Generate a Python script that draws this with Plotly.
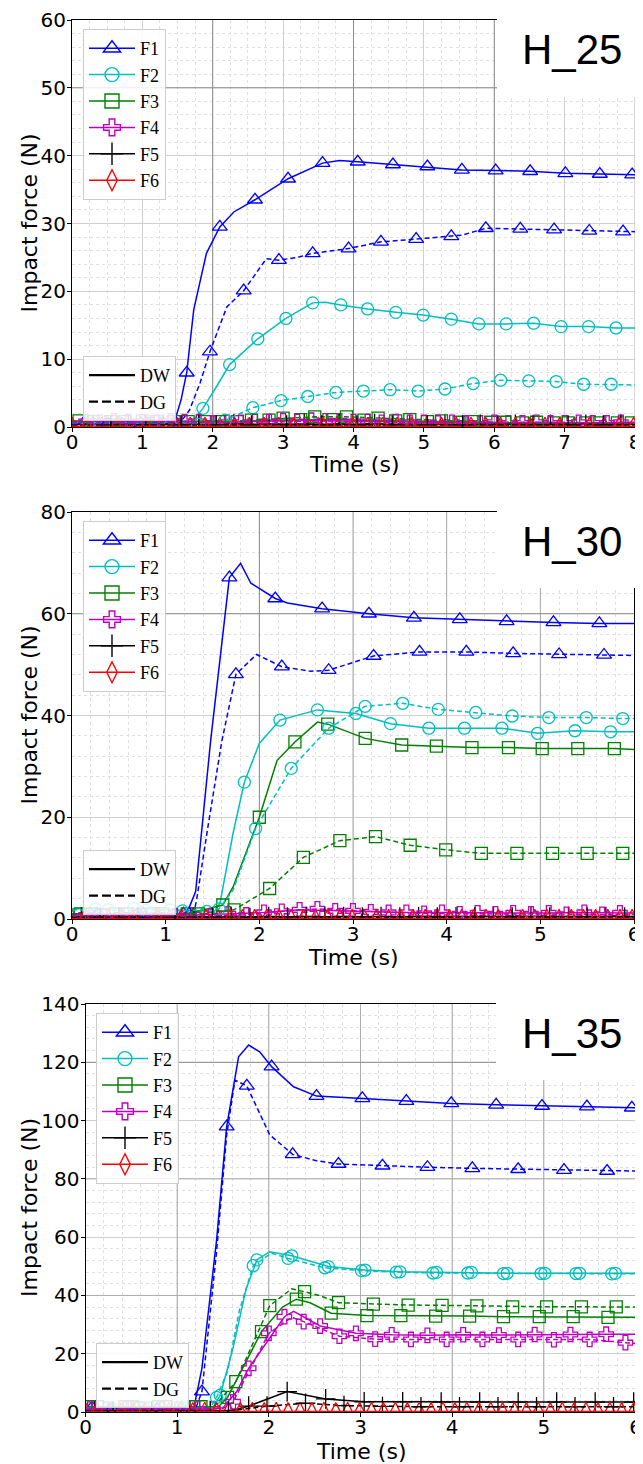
import plotly.graph_objects as go

W, H = 643, 1464
OFF = 8  # the page body adds an 8px margin; compensate so the figure lands where the reference is

# ---------------- DATA ----------------
FORCES = ["F1", "F2", "F3", "F4", "F5", "F6"]
CASES = ["DW", "DG"]
COLORS = {"F1": "#0000ff", "F2": "#00bfbf", "F3": "#008000",
          "F4": "#bf00bf", "F5": "#000000", "F6": "#ff0000"}
SYMBOLS = {"F1": "triangle-up-open", "F2": "circle-open", "F3": "square-open",
           "F4": "cross-open", "F5": "cross-thin-open", "F6": "diamond-tall-open"}
MSIZE = {"F1": 13, "F2": 12, "F3": 12, "F4": 12, "F5": 14, "F6": 13}
PANEL_TITLES = ["H_25", "H_30", "H_35"]
X_MAX = [8, 6, 6]
Y_MAX = [60, 80, 140]
Y_DTICK = [10, 20, 20]

# t/v = points carrying markers, xt/xv = extra points of the curve only
# ---- H_25 ----
H25_F1_DW = dict(t=[0.16, 0.65, 1.14, 1.63, 2.10, 2.60, 3.07, 3.56, 4.06, 4.56, 5.05, 5.54, 6.02, 6.51, 7.01, 7.50, 7.96],
                 v=[0.5, 0.5, 0.5, 8.0, 29.5, 33.5, 36.6, 38.9, 39.1, 38.7, 38.4, 37.9, 37.8, 37.7, 37.4, 37.3, 37.2],
                 xt=[0, 1.45, 1.55, 1.73, 1.91, 2.30, 3.80, 8.0], xv=[0.5, 0.6, 4.0, 17.3, 25.6, 31.7, 39.3, 37.2])
H25_F1_DG = dict(t=[0.50, 0.98, 1.47, 1.96, 2.44, 2.94, 3.42, 3.93, 4.39, 4.89, 5.39, 5.88, 6.37, 6.85, 7.35, 7.83],
                 v=[0.5, 0.5, 0.6, 11.1, 20.1, 24.6, 25.6, 26.3, 27.3, 27.7, 28.1, 29.3, 29.2, 29.1, 28.9, 28.8],
                 xt=[0, 1.55, 1.67, 1.82, 2.20, 2.76, 3.20, 5.55, 8.0], xv=[0.5, 0.8, 2.5, 6.5, 17.7, 24.8, 25.0, 28.3, 28.8])
H25_F2_DW = dict(t=[0.30, 0.69, 1.08, 1.47, 1.86, 2.24, 2.64, 3.04, 3.42, 3.82, 4.20, 4.60, 4.99, 5.39, 5.78, 6.17, 6.56, 6.95, 7.34, 7.73],
                 v=[0.5, 0.5, 0.5, 0.5, 2.75, 9.2, 13.0, 16.0, 18.3, 18.0, 17.4, 16.9, 16.5, 15.9, 15.2, 15.2, 15.3, 14.8, 14.8, 14.6],
                 xt=[0, 1.70, 2.05, 3.60, 8.0], xv=[0.5, 0.7, 5.9, 18.4, 14.6])
H25_F2_DG = dict(t=[0.23, 0.62, 1.01, 1.40, 1.79, 2.18, 2.57, 2.97, 3.35, 3.75, 4.14, 4.52, 4.92, 5.30, 5.70, 6.09, 6.49, 6.88, 7.27, 7.66],
                 v=[0.4, 0.4, 0.4, 0.4, 0.4, 1.0, 2.85, 3.9, 4.5, 5.1, 5.3, 5.5, 5.3, 5.6, 6.4, 6.9, 6.8, 6.7, 6.3, 6.3],
                 xt=[0, 8.0], xv=[0.4, 6.2])
H25_F3_DW = dict(t=[0.10, 0.55, 1.00, 1.45, 1.90, 2.35, 2.80, 3.25, 3.70, 4.15, 4.60, 5.05, 5.50, 5.95, 6.40, 6.85, 7.30, 7.75],
                 v=[0.9, 0.8, 0.9, 0.8, 0.8, 0.8, 1.0, 1.1, 1.1, 1.0, 0.9, 0.8, 0.7, 0.7, 0.6, 0.6, 0.6, 0.6],
                 xt=[0, 8.0], xv=[0.9, 0.6])
H25_F3_DG = dict(t=[0.30, 0.75, 1.20, 1.65, 2.10, 2.55, 3.00, 3.45, 3.90, 4.35, 4.80, 5.25, 5.70, 6.15, 6.60, 7.05, 7.50, 7.95],
                 v=[0.8, 0.8, 0.8, 0.8, 0.8, 1.0, 1.3, 1.5, 1.5, 1.3, 1.1, 0.9, 0.8, 0.7, 0.7, 0.6, 0.6, 0.6],
                 xt=[0, 8.0], xv=[0.8, 0.6])
H25_F4_DW = dict(t=[0.2, 0.6, 1.0, 1.4, 1.8, 2.2, 2.6, 3.0, 3.4, 3.8, 4.2, 4.6, 5.0, 5.4, 5.8, 6.2, 6.6, 7.0, 7.4, 7.8],
                 v=[0.8, 0.9, 0.8, 0.9, 0.8, 0.7, 0.8, 0.9, 1.0, 0.9, 0.8, 0.8, 0.7, 0.7, 0.6, 0.6, 0.7, 0.6, 0.6, 0.7],
                 xt=[0, 8.0], xv=[0.8, 0.7])
H25_F4_DG = dict(t=[0.4, 0.8, 1.2, 1.6, 2.0, 2.4, 2.8, 3.2, 3.6, 4.0, 4.4, 4.8, 5.2, 5.6, 6.0, 6.4, 6.8, 7.2, 7.6],
                 v=[0.7, 0.8, 0.7, 0.8, 0.6, 0.7, 0.8, 0.8, 0.9, 0.8, 0.7, 0.7, 0.6, 0.6, 0.7, 0.6, 0.6, 0.7, 0.6],
                 xt=[0, 8.0], xv=[0.7, 0.6])
H25_F5_DW = dict(t=[0.3, 0.8, 1.3, 1.8, 2.3, 2.8, 3.3, 3.8, 4.3, 4.8, 5.3, 5.8, 6.3, 6.8, 7.3, 7.8],
                 v=[0.4, 0.4, 0.4, 0.4, 0.5, 0.5, 0.5, 0.5, 0.5, 0.4, 0.4, 0.4, 0.4, 0.4, 0.4, 0.4],
                 xt=[0, 8.0], xv=[0.4, 0.4])
H25_F5_DG = dict(t=[0.55, 1.05, 1.55, 2.05, 2.55, 3.05, 3.55, 4.05, 4.55, 5.05, 5.55, 6.05, 6.55, 7.05, 7.55],
                 v=[0.3, 0.3, 0.3, 0.3, 0.3, 0.3, 0.3, 0.3, 0.3, 0.3, 0.3, 0.3, 0.3, 0.3, 0.3],
                 xt=[0, 8.0], xv=[0.3, 0.3])
H25_F6_DW = dict(t=[0.0, 0.42, 0.84, 1.26, 1.68, 2.10, 2.52, 2.94, 3.36, 3.78, 4.20, 4.62, 5.04, 5.46, 5.88, 6.30, 6.72, 7.14, 7.56, 7.98],
                 v=[0.1, 0.1, 0.1, 0.1, 0.1, 0.1, 0.1, 0.1, 0.1, 0.1, 0.1, 0.1, 0.1, 0.1, 0.1, 0.1, 0.1, 0.1, 0.1, 0.1],
                 xt=[8.0], xv=[0.1])
H25_F6_DG = dict(t=[0.21, 0.63, 1.05, 1.47, 1.89, 2.31, 2.73, 3.15, 3.57, 3.99, 4.41, 4.83, 5.25, 5.67, 6.09, 6.51, 6.93, 7.35, 7.77],
                 v=[0.1, 0.1, 0.1, 0.1, 0.1, 0.1, 0.1, 0.1, 0.1, 0.1, 0.1, 0.1, 0.1, 0.1, 0.1, 0.1, 0.1, 0.1, 0.1],
                 xt=[0, 8.0], xv=[0.1, 0.1])

# ---- H_30 ----
H30_F1_DW = dict(t=[0.20, 0.70, 1.19, 1.68, 2.17, 2.67, 3.17, 3.65, 4.14, 4.64, 5.14, 5.63],
                 v=[1.0, 1.0, 1.0, 67.1, 63.0, 61.0, 60.0, 59.2, 58.9, 58.5, 58.3, 58.1],
                 xt=[0, 1.23, 1.32, 1.48, 1.80, 1.91, 2.30, 6.0], xv=[1.0, 1.3, 5.4, 35.0, 69.9, 66.0, 62.1, 58.1])
H30_F1_DG = dict(t=[0.27, 0.76, 1.25, 1.75, 2.24, 2.74, 3.22, 3.71, 4.21, 4.71, 5.20, 5.68],
                 v=[1.0, 1.0, 1.0, 48.1, 49.6, 48.9, 51.7, 52.5, 52.5, 52.2, 52.0, 51.9],
                 xt=[0, 1.30, 1.33, 1.45, 1.60, 1.97, 2.55, 6.0], xv=[1.0, 1.2, 3.7, 18.0, 35.0, 52.0, 48.7, 51.8])
H30_F2_DW = dict(t=[0.25, 0.66, 1.05, 1.44, 1.84, 2.22, 2.62, 3.03, 3.40, 3.81, 4.19, 4.59, 4.97, 5.37, 5.75],
                 v=[2.0, 2.1, 1.8, 1.5, 26.9, 39.1, 41.1, 40.4, 38.4, 37.5, 37.5, 37.5, 36.5, 37.0, 36.8],
                 xt=[0, 1.52, 1.58, 1.72, 2.00, 6.0], xv=[2.0, 1.5, 3.1, 16.9, 34.5, 36.8])
H30_F2_DG = dict(t=[0.39, 0.79, 1.18, 1.57, 1.96, 2.34, 2.74, 3.13, 3.53, 3.91, 4.31, 4.70, 5.09, 5.49, 5.88],
                 v=[1.8, 1.7, 1.6, 2.0, 17.8, 29.6, 37.5, 41.8, 42.4, 41.2, 40.6, 39.9, 39.6, 39.6, 39.4],
                 xt=[0, 1.72, 1.87, 6.0], xv=[1.8, 5.7, 13.5, 39.4])
H30_F3_DW = dict(t=[0.09, 0.47, 0.85, 1.23, 1.61, 2.00, 2.38, 2.73, 3.13, 3.52, 3.89, 4.27, 4.66, 5.02, 5.40, 5.79],
                 v=[1.0, 1.0, 1.0, 1.0, 2.75, 20.0, 34.8, 38.3, 35.5, 34.2, 34.0, 33.7, 33.7, 33.5, 33.5, 33.5],
                 xt=[0, 1.72, 2.19, 2.62, 6.0], xv=[1.0, 6.3, 31.2, 38.7, 33.3])
H30_F3_DG = dict(t=[0.21, 0.59, 0.97, 1.35, 1.73, 2.11, 2.47, 2.86, 3.24, 3.61, 3.99, 4.37, 4.75, 5.13, 5.50, 5.88],
                 v=[1.0, 1.0, 1.0, 1.0, 1.8, 6.0, 12.1, 15.4, 16.2, 14.5, 13.6, 12.9, 12.9, 12.9, 12.9, 12.9],
                 xt=[0, 6.0], xv=[1.0, 12.9])
H30_F4_DW = dict(t=[0.15, 0.53, 0.91, 1.29, 1.67, 2.05, 2.43, 2.81, 3.19, 3.57, 3.95, 4.33, 4.71, 5.09, 5.47, 5.85],
                 v=[0.8, 0.8, 0.8, 0.8, 1.0, 1.3, 1.8, 1.6, 1.4, 1.3, 1.3, 1.2, 1.2, 1.2, 1.3, 1.2],
                 xt=[0, 6.0], xv=[0.8, 1.2])
H30_F4_DG = dict(t=[0.34, 0.72, 1.10, 1.48, 1.86, 2.24, 2.62, 3.00, 3.38, 3.76, 4.14, 4.52, 4.90, 5.28, 5.66],
                 v=[0.6, 0.6, 0.6, 0.6, 0.8, 1.5, 2.0, 1.6, 1.3, 1.1, 1.0, 1.0, 1.0, 0.9, 0.9],
                 xt=[0, 6.0], xv=[0.6, 0.9])
H30_F5_DW = dict(t=[0.1, 0.5, 0.9, 1.3, 1.7, 2.1, 2.5, 2.9, 3.3, 3.7, 4.1, 4.5, 4.9, 5.3, 5.7],
                 v=[0.4, 0.4, 0.4, 0.4, 0.4, 0.5, 0.5, 0.5, 0.5, 0.5, 0.5, 0.5, 0.5, 0.5, 0.5],
                 xt=[0, 6.0], xv=[0.4, 0.5])
H30_F5_DG = dict(t=[0.3, 0.7, 1.1, 1.5, 1.9, 2.3, 2.7, 3.1, 3.5, 3.9, 4.3, 4.7, 5.1, 5.5, 5.9],
                 v=[0.3, 0.3, 0.3, 0.3, 0.3, 0.4, 0.4, 0.4, 0.4, 0.4, 0.4, 0.4, 0.4, 0.4, 0.4],
                 xt=[0, 6.0], xv=[0.3, 0.4])
H30_F6_DW = dict(t=[0.0, 0.26, 0.52, 0.78, 1.04, 1.30, 1.56, 1.82, 2.08, 2.34, 2.60, 2.86, 3.12, 3.38, 3.64, 3.90, 4.16, 4.42, 4.68, 4.94, 5.20, 5.46, 5.72, 5.98],
                 v=[0.1, 0.1, 0.1, 0.1, 0.1, 0.1, 0.1, 0.1, 0.1, 0.1, 0.1, 0.1, 0.1, 0.1, 0.1, 0.1, 0.1, 0.1, 0.1, 0.1, 0.1, 0.1, 0.1, 0.1],
                 xt=[6.0], xv=[0.1])
H30_F6_DG = dict(t=[0.13, 0.39, 0.65, 0.91, 1.17, 1.43, 1.69, 1.95, 2.21, 2.47, 2.73, 2.99, 3.25, 3.51, 3.77, 4.03, 4.29, 4.55, 4.81, 5.07, 5.33, 5.59, 5.85],
                 v=[0.1, 0.1, 0.1, 0.1, 0.1, 0.1, 0.1, 0.1, 0.1, 0.1, 0.1, 0.1, 0.1, 0.1, 0.1, 0.1, 0.1, 0.1, 0.1, 0.1, 0.1, 0.1, 0.1],
                 xt=[0, 6.0], xv=[0.1, 0.1])

# ---- H_35 ----
H35_F1_DW = dict(t=[0.07, 0.56, 1.05, 1.54, 2.03, 2.52, 3.02, 3.50, 3.99, 4.48, 4.98, 5.47, 5.96],
                 v=[1.5, 1.5, 1.5, 97.9, 118.5, 108.4, 107.6, 106.7, 105.9, 105.4, 105.0, 104.8, 104.4],
                 xt=[0, 1.18, 1.27, 1.43, 1.67, 1.78, 1.90, 2.27, 6.0], xv=[1.5, 1.0, 15.0, 59.0, 121.9, 125.9, 123.6, 111.6, 104.4])
H35_F1_DG = dict(t=[0.29, 0.78, 1.27, 1.76, 2.26, 2.76, 3.24, 3.73, 4.22, 4.72, 5.22, 5.69],
                 v=[1.0, 1.0, 7.0, 111.9, 88.4, 85.1, 84.5, 84.0, 83.6, 83.3, 83.0, 82.7],
                 xt=[0, 1.20, 1.43, 1.54, 1.63, 2.01, 2.52, 6.0], xv=[1.0, 1.0, 55.0, 95.0, 113.9, 95.1, 86.2, 82.7])
H35_F2_DW = dict(t=[0.29, 0.68, 1.07, 1.47, 1.87, 2.25, 2.65, 3.05, 3.43, 3.83, 4.21, 4.60, 5.01, 5.39, 5.78],
                 v=[1.4, 1.4, 1.4, 5.8, 52.2, 53.6, 49.9, 48.7, 48.1, 47.9, 47.9, 47.6, 47.6, 47.6, 47.6],
                 xt=[0, 1.39, 1.61, 1.75, 2.01, 6.0], xv=[1.4, 1.5, 22.0, 42.0, 55.0, 47.6])
H35_F2_DG = dict(t=[0.25, 0.64, 1.03, 1.43, 1.83, 2.21, 2.61, 3.01, 3.39, 3.79, 4.17, 4.56, 4.97, 5.35, 5.74],
                 v=[1.4, 1.4, 1.4, 5.0, 50.2, 52.7, 49.5, 48.5, 48.0, 47.7, 47.7, 47.5, 47.5, 47.5, 47.4],
                 xt=[0, 1.36, 1.55, 1.68, 2.03, 6.0], xv=[1.4, 1.5, 14.0, 35.0, 54.5, 47.4])
H35_F3_DW = dict(t=[0.05, 0.43, 0.80, 1.18, 1.55, 1.92, 2.30, 2.68, 3.07, 3.44, 3.82, 4.19, 4.56, 4.95, 5.32, 5.70],
                 v=[1.8, 1.8, 1.8, 1.8, 5.0, 27.6, 38.7, 33.9, 33.1, 33.1, 32.9, 32.9, 32.7, 32.7, 32.7, 32.5],
                 xt=[0, 1.45, 2.15, 2.45, 6.0], xv=[1.8, 1.8, 36.0, 37.5, 32.5])
H35_F3_DG = dict(t=[0.13, 0.51, 0.88, 1.26, 1.64, 2.01, 2.39, 2.76, 3.14, 3.52, 3.89, 4.27, 4.66, 5.03, 5.41, 5.79],
                 v=[1.8, 1.8, 1.8, 1.8, 10.4, 36.5, 41.3, 37.5, 37.0, 36.7, 36.6, 36.4, 36.1, 36.1, 36.1, 36.1],
                 xt=[0, 1.40, 2.25, 2.55, 6.0], xv=[1.8, 1.8, 42.3, 40.0, 36.0])
H35_F4_DW = dict(t=[0.22, 0.61, 1.00, 1.39, 1.78, 2.17, 2.56, 2.95, 3.34, 3.73, 4.12, 4.51, 4.90, 5.29, 5.68],
                 v=[1.0, 1.0, 1.0, 1.0, 15.0, 32.7, 29.5, 27.0, 26.5, 26.3, 26.5, 26.4, 26.6, 26.6, 26.7],
                 xt=[0, 1.50, 1.65, 2.27, 6.0], xv=[1.0, 1.5, 7.0, 34.5, 26.7])
H35_F4_DG = dict(t=[0.05, 0.44, 0.83, 1.22, 1.61, 2.00, 2.38, 2.77, 3.16, 3.55, 3.94, 4.33, 4.72, 5.11, 5.50, 5.89],
                 v=[1.0, 1.0, 1.0, 1.0, 3.5, 27.0, 31.0, 26.0, 25.0, 24.9, 24.9, 24.9, 24.9, 24.8, 24.9, 23.8],
                 xt=[0, 1.50, 2.25, 6.0], xv=[1.0, 1.2, 32.5, 23.5])
H35_F5_DW = dict(t=[0.10, 0.52, 0.94, 1.36, 1.78, 2.20, 2.62, 3.04, 3.46, 3.88, 4.30, 4.72, 5.14, 5.56, 5.98],
                 v=[0.5, 0.5, 0.5, 0.5, 2.0, 7.0, 4.5, 3.5, 3.5, 3.4, 3.4, 3.4, 3.4, 3.4, 3.4],
                 xt=[0, 1.60, 6.0], xv=[0.5, 0.6, 3.4])
H35_F5_DG = dict(t=[0.30, 0.72, 1.14, 1.56, 1.98, 2.40, 2.82, 3.24, 3.66, 4.08, 4.50, 4.92, 5.34, 5.76],
                 v=[0.3, 0.3, 0.3, 0.3, 2.0, 3.0, 2.2, 1.9, 1.8, 1.8, 1.8, 1.8, 1.8, 1.8],
                 xt=[0, 6.0], xv=[0.3, 1.8])
H35_F6_DW = dict(t=[0.0, 0.26, 0.52, 0.78, 1.04, 1.30, 1.56, 1.82, 2.08, 2.34, 2.60, 2.86, 3.12, 3.38, 3.64, 3.90, 4.16, 4.42, 4.68, 4.94, 5.20, 5.46, 5.72, 5.98],
                 v=[0.2, 0.2, 0.2, 0.2, 0.2, 0.2, 0.2, 0.2, 0.2, 0.2, 0.2, 0.2, 0.2, 0.2, 0.2, 0.2, 0.2, 0.2, 0.2, 0.2, 0.2, 0.2, 0.2, 0.2],
                 xt=[6.0], xv=[0.2])
H35_F6_DG = dict(t=[0.13, 0.39, 0.65, 0.91, 1.17, 1.43, 1.69, 1.95, 2.21, 2.47, 2.73, 2.99, 3.25, 3.51, 3.77, 4.03, 4.29, 4.55, 4.81, 5.07, 5.33, 5.59, 5.85],
                 v=[0.1, 0.1, 0.1, 0.1, 0.1, 0.1, 0.1, 0.1, 0.1, 0.1, 0.1, 0.1, 0.1, 0.1, 0.1, 0.1, 0.1, 0.1, 0.1, 0.1, 0.1, 0.1, 0.1],
                 xt=[0, 6.0], xv=[0.1, 0.1])

PANEL_DATA = [
    {("F1", "DW"): H25_F1_DW, ("F1", "DG"): H25_F1_DG, ("F2", "DW"): H25_F2_DW, ("F2", "DG"): H25_F2_DG,
     ("F3", "DW"): H25_F3_DW, ("F3", "DG"): H25_F3_DG, ("F4", "DW"): H25_F4_DW, ("F4", "DG"): H25_F4_DG,
     ("F5", "DW"): H25_F5_DW, ("F5", "DG"): H25_F5_DG, ("F6", "DW"): H25_F6_DW, ("F6", "DG"): H25_F6_DG},
    {("F1", "DW"): H30_F1_DW, ("F1", "DG"): H30_F1_DG, ("F2", "DW"): H30_F2_DW, ("F2", "DG"): H30_F2_DG,
     ("F3", "DW"): H30_F3_DW, ("F3", "DG"): H30_F3_DG, ("F4", "DW"): H30_F4_DW, ("F4", "DG"): H30_F4_DG,
     ("F5", "DW"): H30_F5_DW, ("F5", "DG"): H30_F5_DG, ("F6", "DW"): H30_F6_DW, ("F6", "DG"): H30_F6_DG},
    {("F1", "DW"): H35_F1_DW, ("F1", "DG"): H35_F1_DG, ("F2", "DW"): H35_F2_DW, ("F2", "DG"): H35_F2_DG,
     ("F3", "DW"): H35_F3_DW, ("F3", "DG"): H35_F3_DG, ("F4", "DW"): H35_F4_DW, ("F4", "DG"): H35_F4_DG,
     ("F5", "DW"): H35_F5_DW, ("F5", "DG"): H35_F5_DG, ("F6", "DW"): H35_F6_DW, ("F6", "DG"): H35_F6_DG},
]

# ---------------- LAYOUT (pixel geometry, screen pixels) ----------------
PANELS = [
    dict(x0=72, x1=635, y0=20, y1=427, xminor=0.25, yminor=2, box=(497, 0, 97),
         title_y=50, legF=(83, 29), legD=(83, 356), xtitle_y=464,
         dark_x=[2, 4, 6], dark_y=[50], mid_x=[8], mid_y=[]),
    dict(x0=72, x1=634, y0=512, y1=919, xminor=0.2, yminor=4, box=(497, 485, 588),
         title_y=541, legF=(83, 521), legD=(83, 850), xtitle_y=957,
         dark_x=[2], dark_y=[60], mid_x=[3, 4, 5], mid_y=[]),
    dict(x0=85.5, x1=635.5, y0=1004, y1=1412, xminor=0.2, yminor=4, box=(496, 980, 1080),
         title_y=1033, legF=(96, 1013), legD=(96, 1343), xtitle_y=1451,
         dark_x=[], dark_y=[120], mid_x=[1, 2, 3, 4, 5], mid_y=[40, 80]),
]


def fx(p):
    return (p - OFF) / W


def fy(p):
    return 1 - (p - OFF) / H


DASH = {"DW": "solid", "DG": "5px,3px"}
TICKFONT = dict(family="DejaVu Sans", size=20, color="black")
LEGFONT = dict(family="Liberation Serif", size=18, color="black")

fig = go.Figure()
layout = dict(width=W, height=H, margin=dict(l=0, r=0, t=0, b=0, autoexpand=False), autosize=False,
              paper_bgcolor="white", plot_bgcolor="white", showlegend=True)
shapes, annotations = [], []

for i, P in enumerate(PANELS):
    sfx = "" if i == 0 else str(i + 1)
    xa, ya = "x" + sfx, "y" + sfx
    legF = "legend" if i == 0 else "legend" + str(2 * i + 1)
    legD = "legend" + str(2 * i + 2)
    data = PANEL_DATA[i]

    # emphasised grid lines (drawn first, underneath the data)
    for gx, c in [(g, "#8c8c8c") for g in P["dark_x"]] + [(g, "#adadad") for g in P["mid_x"]]:
        fig.add_trace(go.Scatter(x=[gx, gx], y=[0, Y_MAX[i]], mode="lines", line=dict(color=c, width=1),
                                 xaxis=xa, yaxis=ya, showlegend=False, hoverinfo="skip"))
    for gy, c in [(g, "#8c8c8c") for g in P["dark_y"]] + [(g, "#adadad") for g in P["mid_y"]]:
        fig.add_trace(go.Scatter(x=[0, X_MAX[i]], y=[gy, gy], mode="lines", line=dict(color=c, width=1),
                                 xaxis=xa, yaxis=ya, showlegend=False, hoverinfo="skip"))

    for case in CASES:
        for f in FORCES:
            d = data[(f, case)]
            pts = sorted(zip(list(d["t"]) + list(d["xt"]), list(d["v"]) + list(d["xv"])))
            col = COLORS[f]
            fig.add_trace(go.Scatter(x=[p[0] for p in pts], y=[p[1] for p in pts], mode="lines",
                                     line=dict(color=col, width=1.5, dash=DASH[case]),
                                     xaxis=xa, yaxis=ya, showlegend=False, hoverinfo="skip"))
            fig.add_trace(go.Scatter(x=d["t"], y=d["v"], mode="markers",
                                     marker=dict(symbol=SYMBOLS[f], size=MSIZE[f], color=col,
                                                 line=dict(color=col, width=1.3)),
                                     xaxis=xa, yaxis=ya, showlegend=False, hoverinfo="skip"))
    # legend entries for forces
    for f in FORCES:
        col = COLORS[f]
        fig.add_trace(go.Scatter(x=[None], y=[None], mode="lines+markers", name=f,
                                 line=dict(color=col, width=1.5),
                                 marker=dict(symbol=SYMBOLS[f], size=MSIZE[f] + 2, color=col,
                                             line=dict(color=col, width=1.4)),
                                 xaxis=xa, yaxis=ya, legend=legF))
    for case in CASES:
        fig.add_trace(go.Scatter(x=[None], y=[None], mode="lines", name=case,
                                 line=dict(color="black", width=2.2,
                                           dash="solid" if case == "DW" else "9px,4px"),
                                 xaxis=xa, yaxis=ya, legend=legD))
    common_leg = dict(bgcolor="rgba(255,255,255,0.85)", bordercolor="#cccccc", borderwidth=1,
                      font=LEGFONT, xanchor="left", yanchor="top", itemwidth=46,
                      tracegroupgap=0)
    layout[legF] = dict(x=fx(P["legF"][0]), y=fy(P["legF"][1]), **common_leg)
    layout[legD] = dict(x=fx(P["legD"][0]), y=fy(P["legD"][1]), **common_leg)

    layout["xaxis" + sfx] = dict(
        domain=[fx(P["x0"]), fx(P["x1"])], anchor=ya, range=[0, X_MAX[i]], automargin=False,
        tickmode="linear", tick0=0, dtick=1, ticks="outside", ticklen=4, tickcolor="black",
        ticklabelstandoff=-7,
        tickfont=TICKFONT, showline=True, linecolor="black", linewidth=1, mirror=True,
        showgrid=True, gridcolor="#cfcfcf", gridwidth=1, zeroline=False,
        minor=dict(dtick=P["xminor"], showgrid=True, gridcolor="#e0e0e0", griddash="dot", gridwidth=1))
    layout["yaxis" + sfx] = dict(
        domain=[fy(P["y1"]), fy(P["y0"])], anchor=xa, range=[0, Y_MAX[i]], automargin=False,
        tickmode="linear", tick0=0, dtick=Y_DTICK[i], ticks="outside", ticklen=4, tickcolor="black",
        ticklabelstandoff=-3,
        tickfont=TICKFONT, showline=True, linecolor="black", linewidth=1, mirror=True,
        showgrid=True, gridcolor="#cfcfcf", gridwidth=1, zeroline=False,
        minor=dict(dtick=P["yminor"], showgrid=True, gridcolor="#e0e0e0", griddash="dot", gridwidth=1))

    # white title box in the upper right
    bx, by0, by1 = P["box"]
    shapes.append(dict(type="rect", xref="paper", yref="paper", x0=fx(bx), x1=1.0,
                       y0=fy(by1), y1=fy(by0), fillcolor="white", line=dict(width=0), layer="above"))
    annotations.append(dict(text=PANEL_TITLES[i], xref="paper", yref="paper", x=fx(572), y=fy(P["title_y"]),
                            xanchor="center", yanchor="middle", showarrow=False,
                            font=dict(family="Liberation Sans", size=42, color="black")))
    # axis titles
    annotations.append(dict(text="Impact force (N)", xref="paper", yref="paper", x=fx(29),
                            y=fy((P["y0"] + P["y1"]) / 2), textangle=-90, xanchor="center", yanchor="middle",
                            showarrow=False, font=dict(family="DejaVu Sans", size=22, color="black")))
    annotations.append(dict(text="Time (s)", xref="paper", yref="paper", x=fx((P["x0"] + P["x1"]) / 2),
                            y=fy(P["xtitle_y"]), xanchor="center", yanchor="middle",
                            showarrow=False, font=dict(family="DejaVu Sans", size=22, color="black")))

layout["shapes"] = shapes
layout["annotations"] = annotations
fig.update_layout(**layout)
fig.write_html("out.html")
